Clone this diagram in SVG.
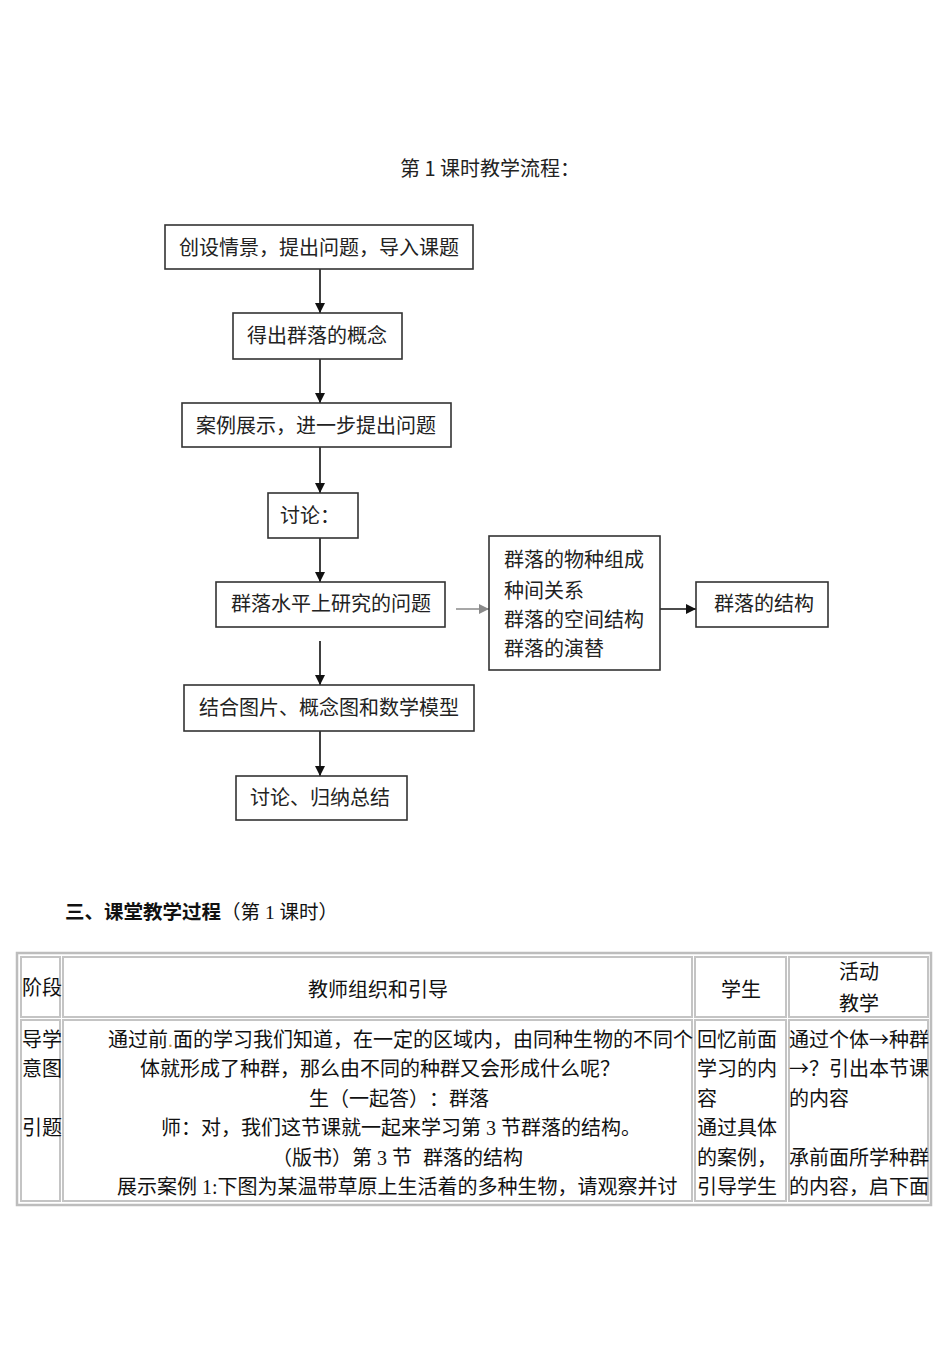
<svg xmlns="http://www.w3.org/2000/svg" width="950" height="1350" viewBox="0 0 950 1350">
<defs>
<marker id="ah" markerUnits="userSpaceOnUse" markerWidth="11" markerHeight="11" refX="10" refY="5" orient="auto"><path d="M0,0 L10,5 L0,10 z" fill="#111"/></marker>
<marker id="ahg" markerUnits="userSpaceOnUse" markerWidth="11" markerHeight="11" refX="10" refY="5" orient="auto"><path d="M0,0 L10,5 L0,10 z" fill="#8a8a8a"/></marker>
<style>
text{text-spacing-trim:space-all}
.box{fill:#fff;stroke:#333;stroke-width:1.6}
.ft{font-family:"Noto Sans CJK SC",sans-serif;font-size:20px;fill:#222}
.conn{stroke:#111;stroke-width:1.6;fill:none;marker-end:url(#ah)}
.tt{font-family:"Liberation Serif","Noto Sans CJK SC",serif;font-size:20px;fill:#111}
.cjk{font-family:"Noto Sans CJK SC",sans-serif}
.cell{fill:none;stroke:#c4c4c4;stroke-width:2}
</style>
</defs>
<rect width="950" height="1350" fill="#fff"/>

<text x="400" y="175.5" style="font-family:'Noto Sans CJK SC',sans-serif;font-size:20px;fill:#222">第<tspan dx="4.5">1</tspan><tspan dx="4.5">课时教学流程：</tspan></text>

<g id="connectors">
<line class="conn" x1="320" y1="269" x2="320" y2="313"/>
<line class="conn" x1="320" y1="359" x2="320" y2="403"/>
<line class="conn" x1="320" y1="447" x2="320" y2="493"/>
<line class="conn" x1="320" y1="538" x2="320" y2="582"/>
<line x1="456" y1="609" x2="489" y2="609" style="stroke:#8a8a8a;stroke-width:1.6;marker-end:url(#ahg)"/>
<line class="conn" x1="660" y1="609" x2="696" y2="609"/>
<line class="conn" x1="320" y1="641" x2="320" y2="685"/>
<line class="conn" x1="320" y1="731" x2="320" y2="776"/>
</g>

<g id="n1"><rect class="box" x="165" y="225" width="308" height="44"/><text class="ft" x="319" y="254.5" text-anchor="middle">创设情景，提出问题，导入课题</text></g>
<g id="n2"><rect class="box" x="233" y="313" width="169" height="46"/><text class="ft" x="317" y="343" text-anchor="middle">得出群落的概念</text></g>
<g id="n3"><rect class="box" x="182" y="403" width="269" height="44"/><text class="ft" x="316" y="432.5" text-anchor="middle">案例展示，进一步提出问题</text></g>
<g id="n4"><rect class="box" x="268" y="493" width="90" height="45"/><text class="ft" x="280" y="522.5">讨论：</text></g>
<g id="n5"><rect class="box" x="216" y="582" width="229" height="45"/><text class="ft" x="231" y="611">群落水平上研究的问题</text></g>
<g id="n6"><rect class="box" x="489" y="536" width="171" height="134"/>
<text class="ft" x="504" y="567">群落的物种组成</text>
<text class="ft" x="504" y="597.5">种间关系</text>
<text class="ft" x="504" y="626.5">群落的空间结构</text>
<text class="ft" x="504" y="655.5">群落的演替</text></g>
<g id="n7"><rect class="box" x="696" y="582" width="132" height="45"/><text class="ft" x="714" y="611">群落的结构</text></g>
<g id="n8"><rect class="box" x="184" y="685" width="290" height="46"/><text class="ft" x="199" y="714.5">结合图片、概念图和数学模型</text></g>
<g id="n9"><rect class="box" x="236" y="776" width="171" height="44"/><text class="ft" x="250" y="805">讨论、归纳总结</text></g>

<text x="65" y="919" style="font-family:'Noto Sans CJK SC',sans-serif;font-size:19.5px;fill:#111"><tspan font-weight="bold">三、课堂教学过程</tspan><tspan font-family="Liberation Serif, Noto Sans CJK SC, serif">（第 1 课时）</tspan></text>

<g id="table">
<rect x="17" y="953" width="914" height="252" fill="none" stroke="#bdbdbd" stroke-width="2.5"/>
<rect class="cell" x="21" y="957" width="39" height="60"/>
<rect class="cell" x="63" y="957" width="629" height="60"/>
<rect class="cell" x="695" y="957" width="91" height="60"/>
<rect class="cell" x="789" y="957" width="139" height="60"/>
<rect class="cell" x="21" y="1020" width="39" height="181"/>
<rect class="cell" x="63" y="1020" width="629" height="181"/>
<rect class="cell" x="695" y="1020" width="91" height="181"/>
<rect class="cell" x="789" y="1020" width="139" height="181"/>

<text class="tt" x="22" y="995">阶段</text>
<text class="tt" x="378" y="997" text-anchor="middle">教师组织和引导</text>
<text class="tt" x="741" y="997" text-anchor="middle">学生</text>
<text class="tt" x="859" y="979" text-anchor="middle">活动</text>
<text class="tt" x="859" y="1011" text-anchor="middle">教学</text>

<text class="tt" x="22" y="1047">导学</text>
<text class="tt" x="22" y="1076">意图</text>
<text class="tt" x="22" y="1135">引题</text>

<text class="tt" x="108" y="1047">通过前<tspan fill="#e0a030">.</tspan>面的学习我们知道，在一定的区域内，由同种生物的不同个</text>
<text class="tt" x="140" y="1076">体就形成了种群，那么由不同的种群又会形成什么呢<tspan class="cjk">？</tspan></text>
<text class="tt" x="309" y="1106">生（一起答）<tspan class="cjk">：</tspan>群落</text>
<text class="tt" x="161" y="1135">师<tspan class="cjk">：</tspan>对，我们这节课就一起来学习第 3 节群落的结构。</text>
<text class="tt" x="272" y="1165">（版书）第 3 节 <tspan dx="6">群落的结构</tspan></text>
<text class="tt" x="117" y="1194">展示案例 1:下图为某温带草原上生活着的多种生物，请观察并讨</text>

<text class="tt" x="697" y="1047">回忆前面</text>
<text class="tt" x="697" y="1076">学习的内</text>
<text class="tt" x="697" y="1106">容</text>
<text class="tt" x="697" y="1135">通过具体</text>
<text class="tt" x="697" y="1165">的案例，</text>
<text class="tt" x="697" y="1194">引导学生</text>

<text class="tt" x="789" y="1047">通过个体<tspan class="cjk">→</tspan>种群</text>
<text class="tt" x="789" y="1076"><tspan class="cjk">→？</tspan>引出本节课</text>
<text class="tt" x="789" y="1106">的内容</text>
<text class="tt" x="789" y="1165">承前面所学种群</text>
<text class="tt" x="789" y="1194">的内容，启下面</text>
</g>
</svg>
